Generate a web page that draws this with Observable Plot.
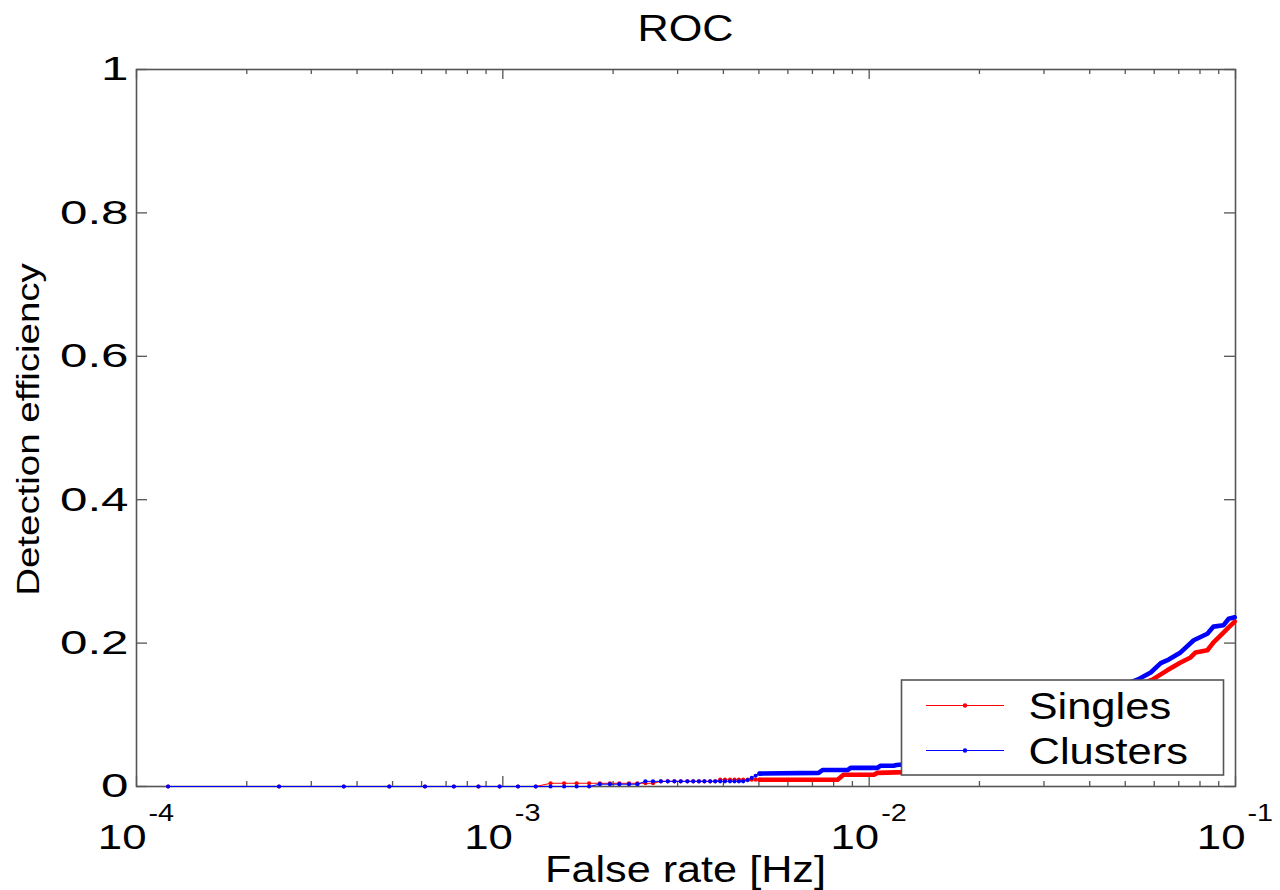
<!DOCTYPE html>
<html><head><meta charset="utf-8">
<script src="https://cdn.jsdelivr.net/npm/d3@7"></script>
<script src="https://cdn.jsdelivr.net/npm/@observablehq/plot@0.6"></script>
<style>
html,body{margin:0;padding:0;background:#fff;}
#chart{position:relative;width:1280px;height:890px;overflow:hidden;}
</style></head><body><div id="chart"></div>
<script>
// ---- text ----
const title = "ROC";
const xLabel = "False rate [Hz]";
const yLabel = "Detection efficiency";
const seriesNames = ["Singles", "Clusters"];
const seriesColors = ["#ff0000", "#0000ff"];

// ---- ticks ----
const xMajorTicks = [1e-4, 1e-3, 1e-2, 1e-1];
const xTickBase = "10";
const xTickExponents = ["-4", "-3", "-2", "-1"];
const xMinorTicks = [2e-4, 3e-4, 4e-4, 5e-4, 6e-4, 7e-4, 8e-4, 9e-4,
                     2e-3, 3e-3, 4e-3, 5e-3, 6e-3, 7e-3, 8e-3, 9e-3,
                     2e-2, 3e-2, 4e-2, 5e-2, 6e-2, 7e-2, 8e-2, 9e-2];
const yTicks = [0, 0.2, 0.4, 0.6, 0.8, 1];
const yTickLabels = ["0", "0.2", "0.4", "0.6", "0.8", "1"];

// ---- data: individually visible markers (false rate [Hz]) ----
const markerRate = [1.22e-4, 2.45e-4, 3.68e-4, 4.90e-4, 6.13e-4, 7.35e-4, 8.58e-4, 9.80e-4,
  1.10e-3, 1.23e-3, 1.35e-3, 1.47e-3, 1.59e-3, 1.72e-3, 1.84e-3, 1.96e-3, 2.08e-3, 2.21e-3,
  2.33e-3, 2.45e-3, 2.57e-3, 2.70e-3, 2.82e-3, 2.94e-3, 3.06e-3, 3.19e-3, 3.31e-3, 3.43e-3,
  3.55e-3, 3.68e-3, 3.80e-3, 3.92e-3, 4.04e-3, 4.17e-3, 4.29e-3, 4.41e-3, 4.53e-3, 4.66e-3,
  4.78e-3, 4.90e-3, 5.02e-3];
const singlesMarkerEff = [0, 0, 0, 0, 0, 0, 0, 0, 0, 0,
  0.0045, 0.0045, 0.0045, 0.0045, 0.0045, 0.0045, 0.0045, 0.0045, 0.0045, 0.0045, 0.0045,
  0.0072, 0.0072, 0.0072, 0.0072, 0.0072, 0.0072, 0.0072, 0.0072, 0.0072, 0.0072,
  0.0095, 0.0095, 0.0095, 0.0095, 0.0095, 0.0095, 0.0095, 0.0095, 0.0095, 0.0095];
const clustersMarkerEff = [0, 0, 0, 0, 0, 0, 0, 0, 0, 0, 0, 0, 0, 0,
  0.0032, 0.0032, 0.0032, 0.0032, 0.0032,
  0.0072, 0.0072, 0.0072, 0.0072, 0.0072, 0.0072, 0.0072, 0.0072, 0.0072, 0.0072,
  0.0072, 0.0072, 0.0072, 0.0072, 0.0072, 0.0072, 0.0072, 0.0072,
  0.009, 0.012, 0.015, 0.018];

// ---- data: dense part of the curves (markers merge into a band) ----
const singlesBandRate = [5.02e-3, 8.20e-3, 8.51e-3, 1.028e-2, 1.054e-2, 1.257e-2,
  5.93e-2, 6.51e-2, 7.08e-2, 7.54e-2, 7.78e-2, 8.38e-2, 8.71e-2, 9.20e-2, 9.58e-2, 9.95e-2];
const singlesBandEff = [0.0095, 0.0095, 0.0163, 0.0163, 0.019, 0.020,
  0.149, 0.162, 0.173, 0.180, 0.187, 0.190, 0.201, 0.213, 0.222, 0.230];
const clustersBandRate = [5.02e-3, 7.28e-3, 7.46e-3, 8.73e-3, 8.90e-3, 1.054e-2, 1.074e-2,
  1.166e-2, 1.188e-2, 1.257e-2,
  5.40e-2, 5.87e-2, 6.25e-2, 6.57e-2, 7.08e-2, 7.69e-2, 8.38e-2, 8.71e-2, 9.28e-2, 9.58e-2, 9.95e-2];
const clustersBandEff = [0.018, 0.019, 0.023, 0.023, 0.026, 0.026, 0.029,
  0.029, 0.030, 0.031,
  0.149, 0.159, 0.172, 0.177, 0.187, 0.204, 0.213, 0.223, 0.225, 0.234, 0.236];

const rows = (rates, effs) => rates.map((r, i) => ({rate: r, eff: effs[i]}));
const singlesMarkers = rows(markerRate, singlesMarkerEff);
const clustersMarkers = rows(markerRate, clustersMarkerEff);
const singlesBand = rows(singlesBandRate, singlesBandEff);
const clustersBand = rows(clustersBandRate, clustersBandEff);
const singlesAll = singlesMarkers.concat(singlesBand.slice(1));
const clustersAll = clustersMarkers.concat(clustersBand.slice(1));

const W = 1280, H = 890;
const mL = 136, mR = 45, mT = 69, mB = 104;
const plotW = W - mL - mR, plotH = H - mT - mB;
const axisColor = "#555";

function seriesMarks(all, band, markers, color) {
  return [
    Plot.line(all, {x: "rate", y: "eff", stroke: color, strokeWidth: 1}),
    Plot.line(band, {x: "rate", y: "eff", stroke: color, strokeWidth: 4.6, strokeLinejoin: "round", strokeLinecap: "round"}),
    Plot.dot(markers, {x: "rate", y: "eff", r: 2.1, fill: color, stroke: "none"})
  ];
}

const chart = Plot.plot({
  width: W, height: H,
  marginLeft: mL, marginRight: mR, marginTop: mT, marginBottom: mB,
  style: {background: "white", fontFamily: "'Liberation Sans', Arial, sans-serif", overflow: "visible"},
  x: {type: "log", domain: [1e-4, 1e-1], axis: null},
  y: {domain: [0, 1], axis: null},
  marks: [
    Plot.frame({stroke: axisColor, strokeWidth: 1.6}),
    // x ticks (inward, bottom and top)
    Plot.ruleX(xMajorTicks, {x: d => d, insetTop: plotH - 10, stroke: axisColor, strokeWidth: 1.3}),
    Plot.ruleX(xMajorTicks, {x: d => d, insetBottom: plotH - 10, stroke: axisColor, strokeWidth: 1.3}),
    Plot.ruleX(xMinorTicks, {x: d => d, insetTop: plotH - 5, stroke: axisColor, strokeWidth: 1.3}),
    Plot.ruleX(xMinorTicks, {x: d => d, insetBottom: plotH - 5, stroke: axisColor, strokeWidth: 1.3}),
    // y ticks (inward, left and right)
    Plot.ruleY(yTicks, {y: d => d, insetRight: plotW - 11, stroke: axisColor, strokeWidth: 1.3}),
    Plot.ruleY(yTicks, {y: d => d, insetLeft: plotW - 11, stroke: axisColor, strokeWidth: 1.3}),
    // tick labels
    Plot.text(yTicks, {y: d => d, frameAnchor: "left", text: (d, i) => yTickLabels[i], textAnchor: "end",
      lineAnchor: "middle", dx: -8, fontSize: 34, fill: "black", ariaDescription: "ytick-labels"}),
    Plot.text(xMajorTicks, {x: d => d, frameAnchor: "bottom", text: () => xTickBase, textAnchor: "end",
      lineAnchor: "bottom", dx: 10, dy: 62, fontSize: 35, fill: "black", ariaDescription: "xtick-base"}),
    Plot.text(xMajorTicks, {x: d => d, frameAnchor: "bottom", text: (d, i) => xTickExponents[i], textAnchor: "start",
      lineAnchor: "bottom", dx: 12, dy: 34, fontSize: 24, fill: "black", ariaDescription: "xtick-exp"}),
    // series
    ...seriesMarks(singlesAll, singlesBand, singlesMarkers, seriesColors[0]),
    ...seriesMarks(clustersAll, clustersBand, clustersMarkers, seriesColors[1])
  ]
});

document.getElementById("chart").appendChild(chart);
const svg = d3.select(chart);

// Title and axis labels
const ttl = svg.append("text").attr("x", mL + plotW / 2).attr("y", 41).attr("text-anchor", "middle")
  .attr("font-size", 36).attr("fill", "black").text(title);
const xl = svg.append("text").attr("x", mL + plotW / 2).attr("y", 882).attr("text-anchor", "middle")
  .attr("font-size", 36).attr("fill", "black").text(xLabel);
const yl = svg.append("text").attr("transform", `translate(39,${mT + plotH / 2 + 2}) rotate(-90)`)
  .attr("text-anchor", "middle").attr("font-size", 31).attr("fill", "black").text(yLabel);

// Legend (bottom-right inside the axes)
const lg = svg.append("g").attr("aria-label", "legend");
const lgX = 901.5, lgY = 680, lgW = 322, lgH = 95;
lg.append("rect").attr("x", lgX).attr("y", lgY).attr("width", lgW).attr("height", lgH)
  .attr("fill", "white").attr("stroke", axisColor).attr("stroke-width", 1.6);
const legendTexts = [];
seriesNames.forEach((name, i) => {
  const cy = lgY + 25.5 + i * 45;
  lg.append("line").attr("x1", lgX + 24.5).attr("x2", lgX + 102.5).attr("y1", cy).attr("y2", cy)
    .attr("stroke", seriesColors[i]).attr("stroke-width", 1.2);
  lg.append("circle").attr("cx", lgX + 63.5).attr("cy", cy).attr("r", 2.2).attr("fill", seriesColors[i]);
  legendTexts.push(lg.append("text").attr("x", lgX + 127).attr("y", cy + 13.5).attr("text-anchor", "start")
    .attr("font-size", 37.5).attr("fill", "black").text(name));
});

function stretch(sel, k) {
  sel.each(function () {
    const L = this.getComputedTextLength();
    if (L > 0) {
      this.setAttribute("textLength", L * k);
      this.setAttribute("lengthAdjust", "spacingAndGlyphs");
    }
  });
}
stretch(svg.selectAll("g[aria-description='ytick-labels'] text"), 1.45);
stretch(svg.selectAll("g[aria-description='xtick-base'] text"), 1.25);
stretch(svg.selectAll("g[aria-description='xtick-exp'] text"), 1.2);
stretch(ttl, 1.2);
stretch(xl, 1.2);
stretch(yl, 1.24);
legendTexts.forEach(t => stretch(t, 1.16));
</script>
</body></html>
